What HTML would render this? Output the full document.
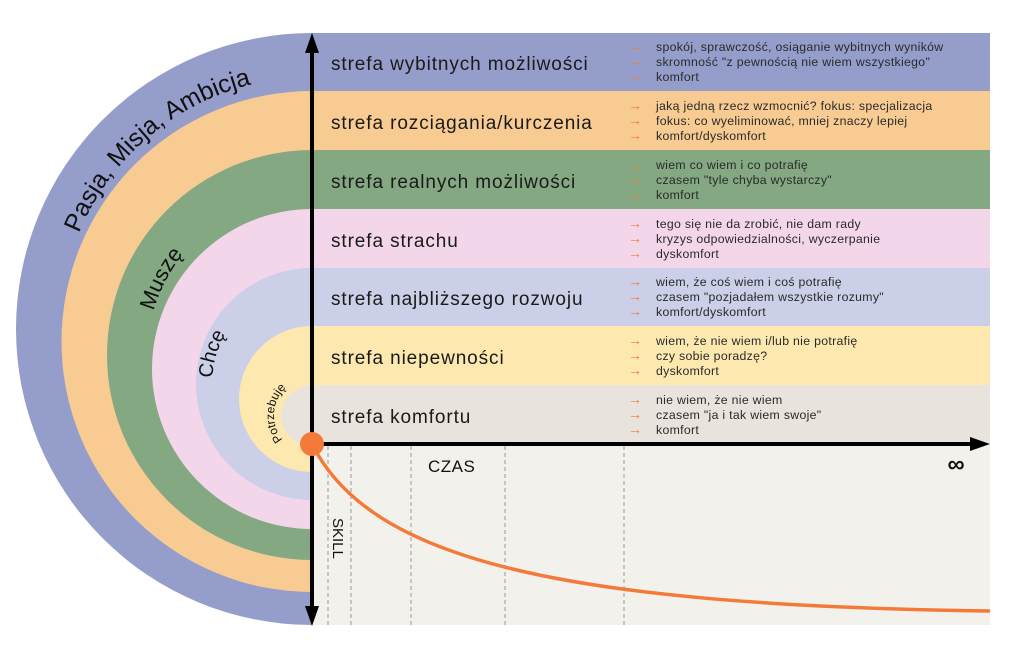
<!DOCTYPE html>
<html><head><meta charset="utf-8"><style>
html,body{margin:0;padding:0;background:#fff;}
svg{display:block;font-family:"Liberation Sans",sans-serif;}
.t{font-size:19px;fill:#1a1a1a;letter-spacing:0.9px;}
.b{font-size:12.3px;fill:#2a2a2a;letter-spacing:0.3px;}
.a{font-size:14px;fill:#f47a3a;}
</style></head><body>
<svg width="1014" height="664" viewBox="0 0 1014 664" xmlns="http://www.w3.org/2000/svg">
<rect x="312" y="33" width="678" height="59" fill="#959dcb"/>
<rect x="312" y="91" width="678" height="60" fill="#f8cb93"/>
<rect x="312" y="150" width="678" height="60" fill="#84a882"/>
<rect x="312" y="209" width="678" height="60" fill="#f4d6ea"/>
<rect x="312" y="268" width="678" height="59" fill="#cbcfe8"/>
<rect x="312" y="326" width="678" height="60" fill="#fde8b0"/>
<rect x="312" y="385" width="678" height="60" fill="#e8e4dd"/>
<rect x="312" y="444" width="678" height="181" fill="#f3f1ec"/>
<path d="M312,625 A296,296 0 0 1 312,33 Z" fill="#959dcb"/>
<path d="M312,592 A250,250 0 0 1 312,91 Z" fill="#f8cb93"/>
<path d="M312,560 A205,205 0 0 1 312,150 Z" fill="#84a882"/>
<path d="M312,529 A160,160 0 0 1 312,209 Z" fill="#f4d6ea"/>
<path d="M312,500 A116,116 0 0 1 312,268 Z" fill="#cbcfe8"/>
<path d="M312,472 A73,73 0 0 1 312,326 Z" fill="#fde8b0"/>
<path d="M312,446 A30.5,30.5 0 0 1 312,385 Z" fill="#e8e4dd"/>
<defs>
<path id="p1" d="M312,581 A252,252 0 0 1 312,77"/>
<path id="p2" d="M312,522 A165,165 0 0 1 312,192"/>
<path id="p3" d="M312,484 A100,100 0 0 1 312,284"/>
<path id="p4" d="M312,453.5 A38,38 0 0 1 312,377.5"/>
</defs>
<text font-size="25" fill="#111" text-anchor="middle"><textPath href="#p1" startOffset="612">Pasja, Misja, Ambicja</textPath></text>
<text font-size="22" fill="#111" text-anchor="middle"><textPath href="#p2" startOffset="338">Muszę</textPath></text>
<text font-size="20" fill="#111" text-anchor="middle"><textPath href="#p3" startOffset="186">Chcę</textPath></text>
<text font-size="12" fill="#111" text-anchor="middle"><textPath href="#p4" startOffset="62">Potrzebuję</textPath></text>
<g stroke="#999" stroke-dasharray="4,3" stroke-width="1">
<line x1="328" y1="446" x2="328" y2="625"/><line x1="351" y1="446" x2="351" y2="625"/>
<line x1="411" y1="446" x2="411" y2="625"/><line x1="505" y1="446" x2="505" y2="625"/>
<line x1="624" y1="446" x2="624" y2="625"/>
</g>
<path d="M312,444 C370,560 560,605 990,611" fill="none" stroke="#f47a3a" stroke-width="3.5"/>
<line x1="312" y1="50" x2="312" y2="608" stroke="#000" stroke-width="4"/>
<polygon points="312,33 305,53 319,53" fill="#000"/>
<polygon points="312,626 305,606 319,606" fill="#000"/>
<line x1="312" y1="444" x2="972" y2="444" stroke="#000" stroke-width="4"/>
<polygon points="990,444 970,437 970,451" fill="#000"/>
<circle cx="312" cy="444" r="12" fill="#f47a3a"/>
<text x="428" y="472" font-size="17" fill="#111" letter-spacing="0.5">CZAS</text>
<text x="956" y="472" font-size="24" font-weight="bold" fill="#111" text-anchor="middle">∞</text>
<text x="333" y="518" font-size="15" fill="#111" transform="rotate(90 333 518)">SKILL</text>
<g class="t">
<text x="331" y="70">strefa wybitnych możliwości</text>
<text x="331" y="129">strefa rozciągania/kurczenia</text>
<text x="331" y="188">strefa realnych możliwości</text>
<text x="331" y="247">strefa strachu</text>
<text x="331" y="305">strefa najbliższego rozwoju</text>
<text x="331" y="364">strefa niepewności</text>
<text x="331" y="423">strefa komfortu</text>
</g>
<g class="a">
<text x="628" y="51">→</text><text x="628" y="66">→</text><text x="628" y="81">→</text>
<text x="628" y="110">→</text><text x="628" y="125">→</text><text x="628" y="140">→</text>
<text x="628" y="169">→</text><text x="628" y="184">→</text><text x="628" y="199">→</text>
<text x="628" y="228">→</text><text x="628" y="243">→</text><text x="628" y="258">→</text>
<text x="628" y="286">→</text><text x="628" y="301">→</text><text x="628" y="316">→</text>
<text x="628" y="345">→</text><text x="628" y="360">→</text><text x="628" y="375">→</text>
<text x="628" y="404">→</text><text x="628" y="419">→</text><text x="628" y="434">→</text>
</g>
<g class="b">
<text x="656" y="51">spokój, sprawczość, osiąganie wybitnych wyników</text>
<text x="656" y="66">skromność "z pewnością nie wiem wszystkiego"</text>
<text x="656" y="81">komfort</text>
<text x="656" y="110">jaką jedną rzecz wzmocnić? fokus: specjalizacja</text>
<text x="656" y="125">fokus: co wyeliminować, mniej znaczy lepiej</text>
<text x="656" y="140">komfort/dyskomfort</text>
<text x="656" y="169">wiem co wiem i co potrafię</text>
<text x="656" y="184">czasem "tyle chyba wystarczy"</text>
<text x="656" y="199">komfort</text>
<text x="656" y="228">tego się nie da zrobić, nie dam rady</text>
<text x="656" y="243">kryzys odpowiedzialności, wyczerpanie</text>
<text x="656" y="258">dyskomfort</text>
<text x="656" y="286">wiem, że coś wiem i coś potrafię</text>
<text x="656" y="301">czasem "pozjadałem wszystkie rozumy"</text>
<text x="656" y="316">komfort/dyskomfort</text>
<text x="656" y="345">wiem, że nie wiem i/lub nie potrafię</text>
<text x="656" y="360">czy sobie poradzę?</text>
<text x="656" y="375">dyskomfort</text>
<text x="656" y="404">nie wiem, że nie wiem</text>
<text x="656" y="419">czasem "ja i tak wiem swoje"</text>
<text x="656" y="434">komfort</text>
</g>
</svg>
</body></html>
